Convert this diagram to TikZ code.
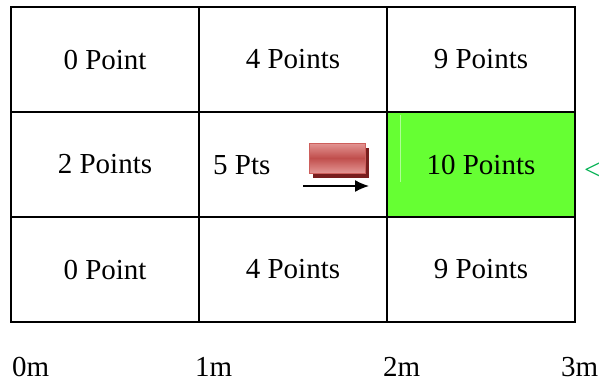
\documentclass[tikz,border=0pt]{standalone}
\usepackage{fontspec}
\setmainfont{Liberation Serif}
\usetikzlibrary{arrows.meta,shadows}
\definecolor{cellgreen}{RGB}{102,255,51}
\definecolor{faintgreen}{RGB}{175,255,150}
\definecolor{ltgreen}{RGB}{0,176,80}
\definecolor{carmid}{RGB}{192,78,76}
\definecolor{caredge}{RGB}{228,150,148}
\definecolor{carborder}{RGB}{205,95,92}
\definecolor{carshadow}{RGB}{120,30,30}
\begin{document}
\begin{tikzpicture}[x=1pt,y=-1pt,
  every node/.style={font=\fontsize{29}{34}\selectfont},
  cell/.style={draw=black, line width=1.8pt, minimum width=188pt, minimum height=105pt, inner sep=0pt, anchor=center},
  lbl/.style={anchor=base west, inner sep=0pt}]
\useasboundingbox (0,0) rectangle (602,383);
% green cell first
\node[cell, fill=cellgreen] (c23) at (481,164.5) {10 Points};
\draw[faintgreen, line width=0.8pt] (400,115) -- (400,182);
\node[cell] (c11) at (105,59.5) {0 Point};
\node[cell] (c12) at (293,59.5) {4 Points};
\node[cell] (c13) at (481,59.5) {9 Points};
\node[cell] (c21) at (105,164.5) {2 Points};
\node[cell] (c22) at (293,164.5) {};
\node[cell] (c31) at (105,269.5) {0 Point};
\node[cell] (c32) at (293,269.5) {4 Points};
\node[cell] (c33) at (481,269.5) {9 Points};
\node[lbl] (pts5) at (213,174.5) {5 Pts};
% car
\node[draw=carborder, line width=0.8pt, minimum width=56pt, minimum height=30pt, inner sep=0pt,
  top color=caredge, bottom color=caredge, middle color=carmid,
  drop shadow={shadow xshift=3.5pt, shadow yshift=-4.5pt, fill=carshadow, opacity=1}] (car) at (337,158) {};
\coordinate (a1) at (303,186);
\coordinate (a2) at (369,186);
\draw[line width=1.5pt, -{Latex[length=14pt,width=12pt]}] (a1) -- (a2);
% green marker
\node[anchor=west, inner sep=0pt, text=ltgreen] (mark) at (584,171) {<};
% scale labels
\node[lbl] (m0) at (12,376) {0m};
\node[lbl] (m1) at (195,376) {1m};
\node[lbl] (m2) at (383,376) {2m};
\node[lbl] (m3) at (561,376) {3m};
\end{tikzpicture}
\end{document}
